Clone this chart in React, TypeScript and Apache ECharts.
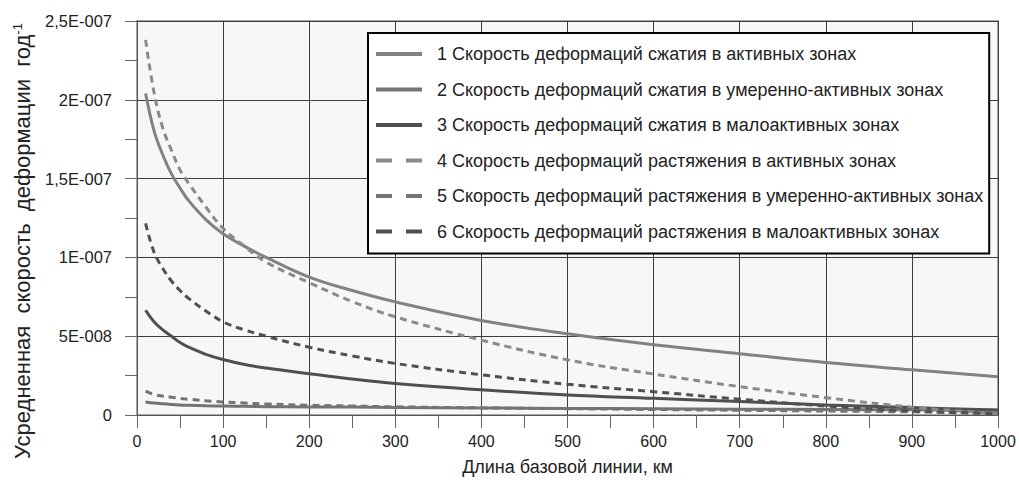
import React, { useEffect, useRef } from "react";
import * as echarts from "echarts";

const xValues = [10, 20, 30, 40, 50, 60, 80, 100, 125, 150, 200, 250, 300, 400, 500, 600, 700, 800, 900, 1000];

const seriesNames = [
  "1 Скорость деформаций сжатия в активных зонах",
  "2 Скорость деформаций сжатия в умеренно-активных зонах",
  "3 Скорость деформаций сжатия в малоактивных зонах",
  "4 Скорость деформаций растяжения в активных зонах",
  "5 Скорость деформаций растяжения в умеренно-активных зонах",
  "6 Скорость деформаций растяжения в малоактивных зонах",
];

const s1 = [2.04e-7, 1.8e-7, 1.65e-7, 1.53e-7, 1.44e-7, 1.36e-7, 1.24e-7, 1.15e-7, 1.07e-7, 1.0e-7, 0.875e-7, 0.79e-7, 0.718e-7, 0.6e-7, 0.515e-7, 0.446e-7, 0.389e-7, 0.333e-7, 0.287e-7, 0.242e-7];
const s2 = [0.083e-7, 0.076e-7, 0.071e-7, 0.067e-7, 0.064e-7, 0.062e-7, 0.059e-7, 0.057e-7, 0.055e-7, 0.053e-7, 0.051e-7, 0.05e-7, 0.048e-7, 0.045e-7, 0.042e-7, 0.04e-7, 0.037e-7, 0.035e-7, 0.033e-7, 0.03e-7];
const s3 = [0.665e-7, 0.59e-7, 0.54e-7, 0.5e-7, 0.46e-7, 0.43e-7, 0.385e-7, 0.352e-7, 0.32e-7, 0.298e-7, 0.262e-7, 0.228e-7, 0.2e-7, 0.16e-7, 0.127e-7, 0.106e-7, 0.085e-7, 0.064e-7, 0.047e-7, 0.032e-7];
const s4 = [2.38e-7, 2.04e-7, 1.82e-7, 1.68e-7, 1.555e-7, 1.47e-7, 1.32e-7, 1.184e-7, 1.07e-7, 0.97e-7, 0.84e-7, 0.72e-7, 0.623e-7, 0.475e-7, 0.35e-7, 0.26e-7, 0.18e-7, 0.11e-7, 0.05e-7, 0.008e-7];
const s5 = [0.152e-7, 0.13e-7, 0.12e-7, 0.113e-7, 0.105e-7, 0.1e-7, 0.09e-7, 0.083e-7, 0.076e-7, 0.07e-7, 0.062e-7, 0.057e-7, 0.052e-7, 0.045e-7, 0.04e-7, 0.035e-7, 0.03e-7, 0.025e-7, 0.02e-7, 0.015e-7];
const s6 = [1.216e-7, 1.03e-7, 0.93e-7, 0.85e-7, 0.79e-7, 0.74e-7, 0.66e-7, 0.591e-7, 0.54e-7, 0.5e-7, 0.43e-7, 0.375e-7, 0.327e-7, 0.255e-7, 0.195e-7, 0.148e-7, 0.1e-7, 0.057e-7, 0.025e-7, 0.008e-7];

const seriesValues = [s1, s2, s3, s4, s5, s6];
const seriesColors = ["#828282", "#737373", "#4f4f4f", "#8a8a8a", "#747474", "#505050"];
const seriesDashed = [false, false, false, true, true, true];

const xAxisTitle = "Длина базовой линии, км";
const yAxisTitle = "Усредненная  скорость  деформации  год";

const FONT = "'Liberation Sans', Arial, sans-serif";

const ICON_SOLID = "path://M0 0H46V4H0Z";
const ICON_DASHED = "path://M0 0H16V4H0ZM30 0H46V4H30Z";

function formatY(v: number): string {
  if (v === 0) return "0";
  let exp = Math.floor(Math.log10(v) + 1e-9);
  let m = Math.round((v / Math.pow(10, exp)) * 100) / 100;
  if (m >= 10) {
    m = m / 10;
    exp += 1;
  }
  const ms = String(m).replace(".", ",");
  const es = (exp < 0 ? "-" : "+") + String(Math.abs(exp)).padStart(3, "0");
  return ms + "E" + es;
}

export default function App() {
  const ref = useRef<HTMLDivElement>(null);
  useEffect(() => {
    if (!ref.current) return;
    const chart = echarts.init(ref.current, undefined, { renderer: "svg" });
    const series = seriesNames.map((name, i) => ({
      name,
      type: "line",
      smooth: 0.4,
      symbol: "none",
      data: xValues.map((x, j) => [x, seriesValues[i][j]]),
      lineStyle: {
        color: seriesColors[i],
        width: 3,
        type: seriesDashed[i] ? [7, 5] : "solid",
        cap: "butt",
      },
      itemStyle: { color: seriesColors[i] },
      z: 3,
    }));
    chart.setOption({
      animation: false,
      grid: {
        left: 137,
        right: 21,
        top: 21,
        bottom: 71,
        show: true,
        backgroundColor: "#f7f7f7",
        borderColor: "#a8a8a8",
        borderWidth: 2,
      },
      xAxis: {
        type: "value",
        min: 0,
        max: 1000,
        interval: 100,
        axisLine: { show: true, lineStyle: { color: "#555", width: 1 } },
        axisTick: { show: true, length: 13, lineStyle: { color: "#666" } },
        minorTick: { show: true, splitNumber: 2, length: 13, lineStyle: { color: "#666" } },
        splitLine: { show: true, lineStyle: { color: "#3c3c3c", width: 1 } },
        axisLabel: { fontSize: 16, color: "#222", fontFamily: FONT, margin: 18, formatter: (v: number) => String(v) },
        name: xAxisTitle,
        nameLocation: "middle",
        nameGap: 43,
        nameTextStyle: { fontSize: 18, color: "#222", fontFamily: FONT },
      },
      yAxis: {
        type: "value",
        min: 0,
        max: 2.5e-7,
        interval: 5e-8,
        axisLine: { show: true, lineStyle: { color: "#555", width: 1 } },
        axisTick: { show: true, length: 12, lineStyle: { color: "#666" } },
        minorTick: { show: true, splitNumber: 2, length: 12, lineStyle: { color: "#666" } },
        splitLine: { show: true, lineStyle: { color: "#3c3c3c", width: 1 } },
        axisLabel: {
          fontSize: 16.5,
          color: "#222",
          fontFamily: FONT,
          margin: 25,
          formatter: (v: number) => formatY(v),
        },
      },
      legend: {
        orient: "vertical",
        left: 368,
        top: 33,
        backgroundColor: "#ffffff",
        borderColor: "#000",
        borderWidth: 2,
        padding: [11, 6, 12, 8],
        itemWidth: 46,
        itemHeight: 4,
        itemGap: 15.5,
        textStyle: { fontSize: 18, lineHeight: 20, color: "#222", fontFamily: FONT, padding: [0, 0, 0, 10] },
        data: seriesNames.map((name, i) => ({
          name,
          icon: seriesDashed[i] ? ICON_DASHED : ICON_SOLID,
          itemStyle: { color: seriesColors[i] },
        })),
      },
      graphic: [
        {
          type: "text",
          x: 22,
          y: 241,
          rotation: Math.PI / 2,
          style: {
            text: yAxisTitle + "{sup|-1}",
            fontSize: 22,
            fontFamily: FONT,
            fill: "#222",
            align: "center",
            verticalAlign: "middle",
            rich: {
              sup: { fontSize: 13, verticalAlign: "top", padding: [0, 0, 10, 0], fill: "#222", fontFamily: FONT },
            },
          },
        },
      ],
      series,
    });
    return () => chart.dispose();
  }, []);
  return <div ref={ref} style={{ width: 1019, height: 486, position: "absolute", left: 0, top: 0 }} />;
}
